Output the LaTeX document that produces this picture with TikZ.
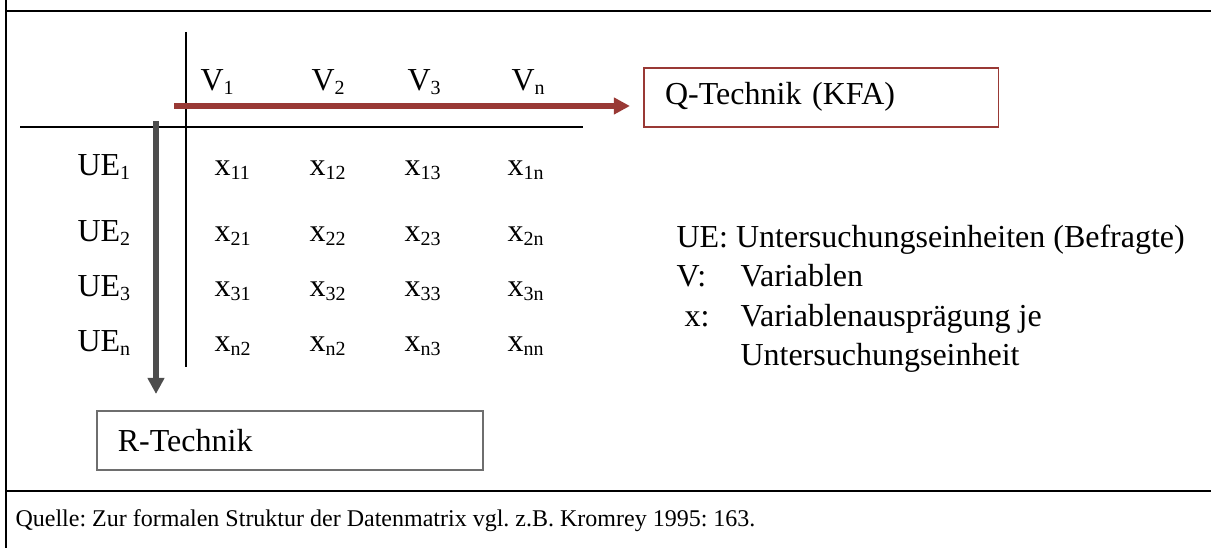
\documentclass[tikz,border=0pt]{standalone}
\usepackage{fontspec}
\setmainfont{Liberation Serif}
\usetikzlibrary{arrows.meta,
                positioning
                }
\definecolor{qred}{RGB}{153,57,53}
\definecolor{rgray}{RGB}{77,77,77}
\definecolor{boxgray}{RGB}{110,110,110}
\newcommand\idx[1]{\raisebox{-1.2pt}{\fontsize{7.5}{8}\selectfont #1}}
\frenchspacing

\begin{document}
\begin{tikzpicture}[
    x = 0.375pt, y = -0.375pt,
    font = \fontsize{12}{14}\selectfont,
    txt/.style = {anchor=base west, inner sep=0pt},
    rule/.style = {draw, line width=0.75pt},
    grid/.style = {draw, line width=0.6pt},
    tbox/.style = {draw, line width=0.6pt, anchor=north west, inner xsep=8pt,
                   text width=117pt, minimum height=22.1pt, align=left},
    flow/.style = {line width=1.9pt, -{Triangle[length=6pt,width=6pt]}}
                    ]
\useasboundingbox (0,0) rectangle (1211,548);
% frame and matrix lines
\draw[rule] (6,0) -- (6,548);
\draw[rule] (6,11) -- (1211,11);
\draw[rule] (6,491) -- (1211,491);
\draw[grid] (186,32) -- (186,367);
\draw[grid] (20,127) -- (583,127);
% variables
\node (v1) [txt] at (200,91) {V\idx{1}};
\node (v2) [txt] at (311,91) {V\idx{2}};
\node (v3) [txt] at (407,91) {V\idx{3}};
\node (vn) [txt] at (511,91) {V\idx{n}};
% units and values
\foreach \y/\r/\a/\b/\c/\d [count=\i] in {176/1/11/12/13/1n, 242/2/21/22/23/2n,
                                          297/3/31/32/33/3n, 352/n/n2/n2/n3/nn}
  {
\node (ue\i) [txt] at (77,\y)  {UE\idx{\r}};
\node (x\i-1) [txt] at (214,\y) {x\idx{\a}};
\node (x\i-2) [txt] at (309,\y) {x\idx{\b}};
\node (x\i-3) [txt] at (404,\y) {x\idx{\c}};
\node (x\i-4) [txt] at (507,\y) {x\idx{\d}};
  }
% techniques
\node (qbox) [tbox, draw=qred] at (643,67) {Q-Technik (KFA)};
\node (rbox) [tbox, draw=boxgray, inner xsep=7.9pt, text width=129pt] at (96,410) {R-Technik};
\coordinate (qs) at (174,106);
\coordinate (rs) at (156,121);
\draw[flow, qred, shorten >=4.9pt]  (qs) -- (qs -| qbox.west);
\draw[flow, rgray, shorten >=6pt]   (rs) -- (rs |- rbox.north);
% legend
\node (lue) [txt] at (676,248) {UE: Untersuchungseinheiten (Befragte)};
\node (lv)  [txt] at (676,287) {V:};
\node (lvt) [txt] at (740,287) {Variablen};
\node (lx)  [txt] at (684,327) {x:};
\node (lxt) [txt] at (740,327) {Variablenausprägung je};
\node (lxu) [txt] at (740,366) {Untersuchungseinheit};
\node (src) [txt, font=\fontsize{9}{11}\selectfont] at (15,526)
      {Quelle: Zur formalen Struktur der Datenmatrix vgl. z.B. Kromrey 1995: 163.};
\end{tikzpicture}
\end{document}
